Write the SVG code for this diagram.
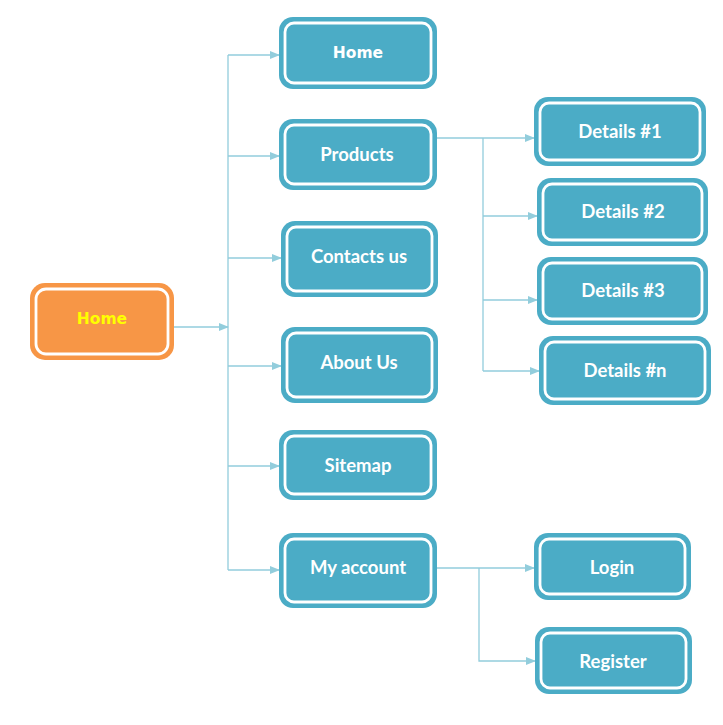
<svg xmlns="http://www.w3.org/2000/svg" width="723" height="725" viewBox="0 0 723 725">
<style>
.box{fill:#4BACC6;stroke:none}
.inner{fill:none;stroke:#fff;stroke-width:2.8}
.t{font-family:Lato,"Open Sans",sans-serif;font-weight:bold;font-size:18.5px;fill:#fff;text-anchor:middle;dominant-baseline:central}
.tv{font-family:"DejaVu Sans",Verdana,sans-serif;font-weight:bold;font-size:15.5px;fill:#fff;text-anchor:middle;dominant-baseline:central}
.c{fill:none;stroke:#92CDDC;stroke-width:1.3}
</style>
<defs>
<marker id="a" markerWidth="10" markerHeight="10" refX="9" refY="5" orient="auto" markerUnits="userSpaceOnUse">
<path d="M0,1 L10,5 L0,9 Z" fill="#92CDDC"/>
</marker>
</defs>
<rect width="723" height="725" fill="#fff"/>
<g id="connectors">
<path class="c" d="M174,327 H228" marker-end="url(#a)"/>
<path class="c" d="M228,55 V570"/>
<path class="c" d="M228,55 H279" marker-end="url(#a)"/>
<path class="c" d="M228,156 H279" marker-end="url(#a)"/>
<path class="c" d="M228,258 H281" marker-end="url(#a)"/>
<path class="c" d="M228,366 H281" marker-end="url(#a)"/>
<path class="c" d="M228,466 H279" marker-end="url(#a)"/>
<path class="c" d="M228,570 H279" marker-end="url(#a)"/>
<path class="c" d="M437,138 H534" marker-end="url(#a)"/>
<path class="c" d="M483,138 V371"/>
<path class="c" d="M483,216 H537" marker-end="url(#a)"/>
<path class="c" d="M483,300 H537" marker-end="url(#a)"/>
<path class="c" d="M483,371 H539" marker-end="url(#a)"/>
<path class="c" d="M437,568 H534" marker-end="url(#a)"/>
<path class="c" d="M479,568 V661 H535" marker-end="url(#a)"/>
</g>
<g id="root">
<rect x="30" y="283" width="144" height="77" rx="15" fill="#F79646"/>
<rect x="36" y="289" width="132" height="65" rx="10" class="inner"/>
<text x="102" y="319" class="tv" style="fill:#FFFF00">Home</text>
</g>
<g id="home">
<rect x="279" y="17" width="158" height="72" rx="14" class="box"/>
<rect x="285" y="23" width="146" height="60" rx="9" class="inner"/>
<text x="358" y="53" class="tv">Home</text>
</g>
<g id="products">
<rect x="279" y="119" width="158" height="71" rx="14" class="box"/>
<rect x="285" y="125" width="146" height="59" rx="9" class="inner"/>
<text x="357" y="154" class="t">Products</text>
</g>
<g id="contacts">
<rect x="281" y="221" width="157" height="76" rx="14" class="box"/>
<rect x="287" y="227" width="145" height="64" rx="9" class="inner"/>
<text x="359" y="256" class="t">Contacts us</text>
</g>
<g id="about">
<rect x="281" y="327" width="157" height="76" rx="14" class="box"/>
<rect x="287" y="333" width="145" height="64" rx="9" class="inner"/>
<text x="359" y="362" class="t">About Us</text>
</g>
<g id="sitemap">
<rect x="279" y="430" width="158" height="70" rx="14" class="box"/>
<rect x="285" y="436" width="146" height="58" rx="9" class="inner"/>
<text x="358" y="465" class="t">Sitemap</text>
</g>
<g id="myaccount">
<rect x="279" y="533" width="158" height="75" rx="14" class="box"/>
<rect x="285" y="539" width="146" height="63" rx="9" class="inner"/>
<text x="358" y="567" class="t">My account</text>
</g>
<g id="details1">
<rect x="534" y="97" width="172" height="69" rx="14" class="box"/>
<rect x="540" y="103" width="160" height="57" rx="9" class="inner"/>
<text x="620" y="131" class="t">Details #1</text>
</g>
<g id="details2">
<rect x="537" y="178" width="171" height="68" rx="14" class="box"/>
<rect x="543" y="184" width="159" height="56" rx="9" class="inner"/>
<text x="623" y="211" class="t">Details #2</text>
</g>
<g id="details3">
<rect x="537" y="257" width="171" height="68" rx="14" class="box"/>
<rect x="543" y="263" width="159" height="56" rx="9" class="inner"/>
<text x="623" y="290" class="t">Details #3</text>
</g>
<g id="detailsn">
<rect x="539" y="336" width="172" height="69" rx="14" class="box"/>
<rect x="545" y="342" width="160" height="57" rx="9" class="inner"/>
<text x="625" y="370" class="t">Details #n</text>
</g>
<g id="login">
<rect x="534" y="533" width="157" height="67" rx="14" class="box"/>
<rect x="540" y="539" width="145" height="55" rx="9" class="inner"/>
<text x="612" y="567" class="t">Login</text>
</g>
<g id="register">
<rect x="535" y="627" width="157" height="67" rx="14" class="box"/>
<rect x="541" y="633" width="145" height="55" rx="9" class="inner"/>
<text x="613" y="661" class="t">Register</text>
</g>
</svg>
